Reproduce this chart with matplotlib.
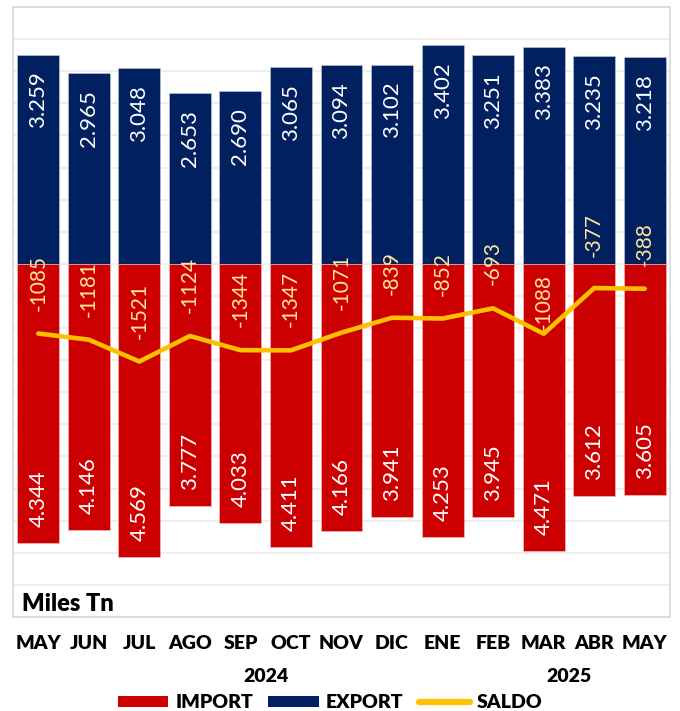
'''
Export / import / saldo bar chart (Miles Tn).
'''

import numpy as np
import matplotlib.pyplot as plt
from matplotlib.lines import Line2D
from matplotlib.patches import Patch

# data
months = ['MAY', 'JUN', 'JUL', 'AGO', 'SEP', 'OCT', 'NOV', 'DIC',
          'ENE', 'FEB', 'MAR', 'ABR', 'MAY']
years = ['2024', '2025']
year_label_at = [4.5, 10.5]
export = [3259, 2965, 3048, 2653, 2690, 3065, 3094, 3102, 3402, 3251, 3383, 3235, 3218]
imports = [4344, 4146, 4569, 3777, 4033, 4411, 4166, 3941, 4253, 3945, 4471, 3612, 3605]
saldo = [-1085, -1181, -1521, -1124, -1344, -1347, -1071, -839, -852, -693, -1088, -377, -388]

# label nudges (points) for saldo labels that sit off the usual spot
saldo_nudge = {10: -14, 11: 6}

c_exp = '#002060'
c_imp = '#CC0000'
c_sal = '#FFC000'
c_sal_txt = '#FFE699'
heavy = 'heavy'

plt.rcParams['font.family'] = ['Lato', 'DejaVu Sans']

fig = plt.figure(figsize=(6.8, 7.11), dpi=100)
ax = fig.add_axes([13 / 680, 94 / 711, 657 / 680, 610 / 711])

x = np.arange(len(months))
w = 0.83
ax.bar(x, export, width=w, color=c_exp, edgecolor='#C8CEDC', linewidth=0.4, zorder=2)
ax.bar(x, -np.array(imports), width=w, color=c_imp, edgecolor='#F0C8C8', linewidth=0.4, zorder=2)
ax.plot(x, saldo, color=c_sal, lw=3.3, solid_capstyle='round',
        solid_joinstyle='round', zorder=3)

ax.set_xlim(-0.5, 12.5)
ax.set_ylim(-5500, 4000)
ax.set_yticks(np.arange(-5500, 4001, 500))
ax.yaxis.grid(True, color='#EEEEEE', lw=1.5, zorder=0)
ax.set_axisbelow(True)
ax.tick_params(axis='y', left=False, labelleft=False)
ax.set_xticks(x, months, fontsize=14, fontweight=heavy)
ax.tick_params(axis='x', length=0, pad=13)
for s in ax.spines.values():
    s.set_color('#D9D9D9')
    s.set_linewidth(1.2)

# value labels
fs = 16
for i in range(len(months)):
    ax.annotate(f'{export[i] / 1000:.3f}', (x[i], export[i]), xytext=(0, -12),
                textcoords='offset points', rotation=90, ha='center', va='top',
                color='white', fontsize=fs, zorder=4)
    ax.annotate(f'{imports[i] / 1000:.3f}', (x[i], -imports[i]), xytext=(0, 11.5),
                textcoords='offset points', rotation=90, ha='center', va='bottom',
                color='white', fontsize=fs, zorder=4)
    ax.annotate(f'{saldo[i]}', (x[i], saldo[i]), xytext=(0, 16.5 + saldo_nudge.get(i, 0)),
                textcoords='offset points', rotation=90, ha='center', va='bottom',
                color=c_sal_txt, fontsize=fs - 1, zorder=4)

ax.text(0.014, 0.004, 'Miles Tn', transform=ax.transAxes, ha='left', va='bottom',
        fontsize=17, fontweight=heavy, color='black')

# year labels under the months
for yr, pos in zip(years, year_label_at):
    ax.text(pos, -0.098, yr, transform=ax.get_xaxis_transform(), ha='center',
            va='center', fontsize=14, fontweight=heavy)

handles = [Patch(facecolor=c_imp), Patch(facecolor=c_exp),
           Line2D([], [], color=c_sal, lw=4.5, solid_capstyle='round')]
fig.legend(handles, ['IMPORT', 'EXPORT', 'SALDO'], loc='center',
           bbox_to_anchor=(330 / 680, 1 - 703 / 711), ncol=3, frameon=False,
           prop={'size': 14, 'weight': heavy}, handlelength=2.6, handleheight=0.46,
           handletextpad=0.36, columnspacing=0.8, borderpad=0, borderaxespad=0)

fig.savefig('out.png', dpi=100)
